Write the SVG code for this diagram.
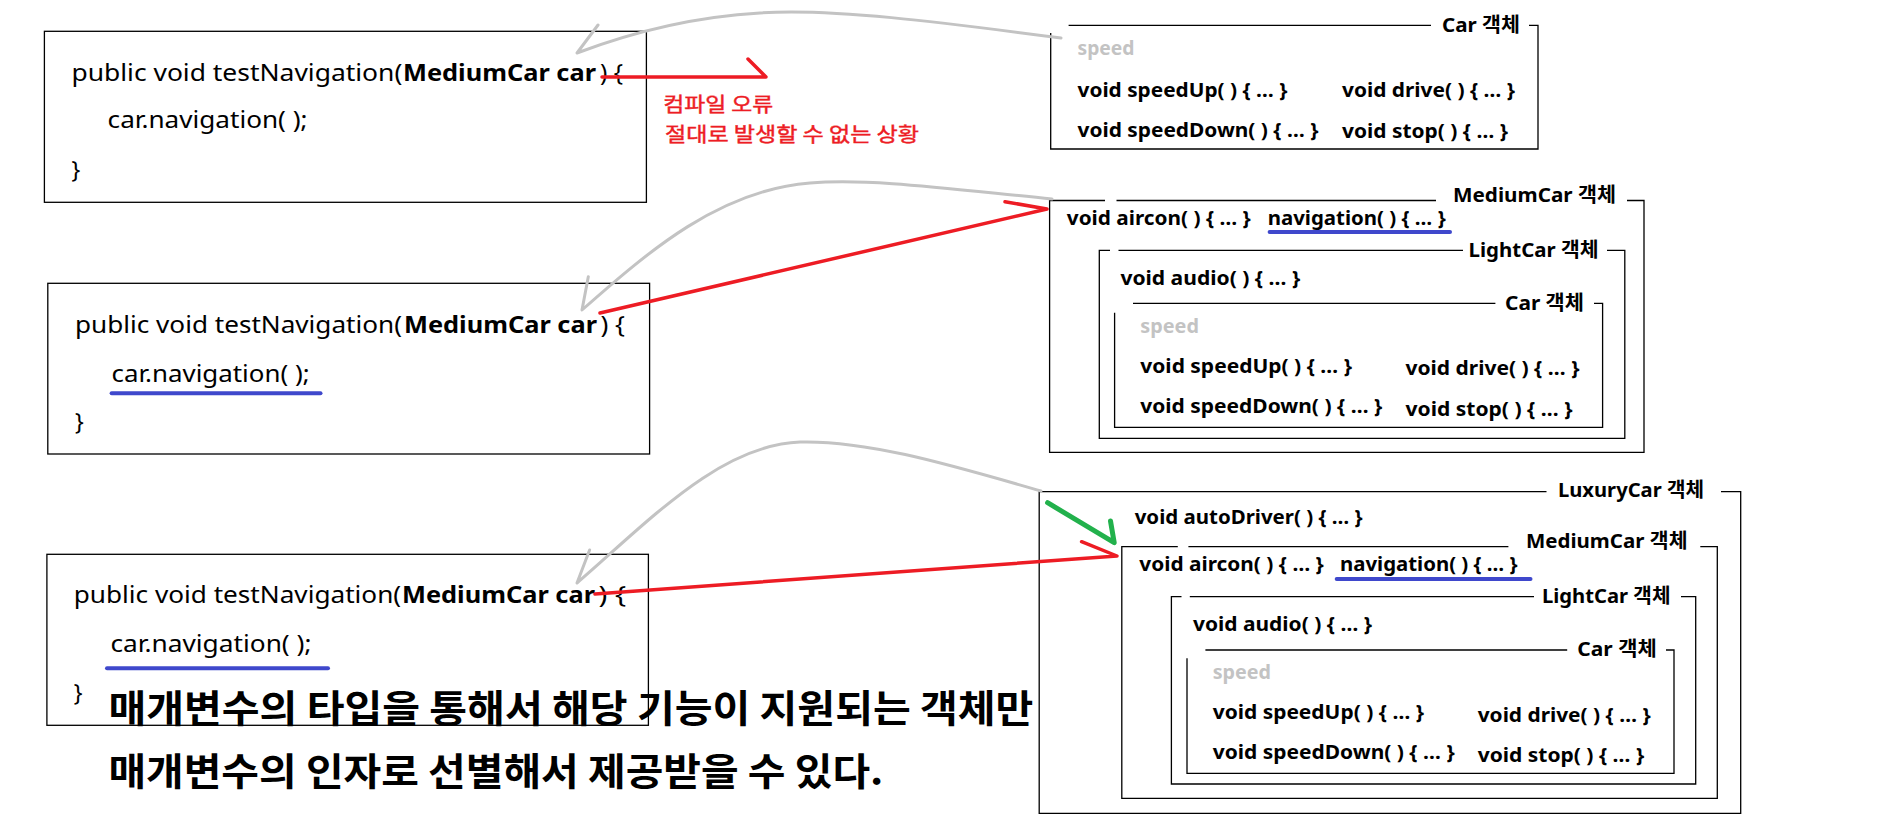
<svg xmlns="http://www.w3.org/2000/svg" width="1887" height="825" viewBox="0 0 1887 825">
<style>
.bx{fill:none;stroke:#000;stroke-width:1.3}
.code{font-family:"Noto Sans","Noto Sans CJK KR",sans-serif;font-size:23px;fill:#000}
.b{font-weight:bold}
.m{font-family:"Noto Sans","Noto Sans CJK KR",sans-serif;font-size:19px;font-weight:bold;fill:#000}
.lbl{font-family:"Noto Sans","Noto Sans CJK KR",sans-serif;font-size:20px;font-weight:bold;fill:#000}
.spd{fill:#c3c3c3}
.note{font-family:"Noto Sans CJK KR",sans-serif;font-size:20px;fill:#ed1c24;stroke:#ed1c24;stroke-width:0.45}
.big{font-family:"Noto Sans CJK KR",sans-serif;font-size:38px;font-weight:bold;fill:#000}
.ul{stroke:#3f48cc;stroke-width:4;stroke-linecap:round;fill:none}
.gray{fill:none;stroke:#c3c3c3;stroke-width:3;stroke-linecap:round;stroke-linejoin:round}
.red{fill:none;stroke:#ed1c24;stroke-width:3.5;stroke-linecap:round;stroke-linejoin:round}
.green{fill:none;stroke:#22b14c;stroke-width:5;stroke-linecap:round;stroke-linejoin:round}
</style>

<g id="code1">
<rect class="bx" x="44.4" y="31.3" width="602" height="171"/>
<text class="code" x="71.4" y="81" textLength="331" lengthAdjust="spacingAndGlyphs">public void testNavigation(</text>
<text class="code b" x="403" y="81" textLength="193" lengthAdjust="spacingAndGlyphs">MediumCar car</text>
<text class="code" x="600" y="81" textLength="23" lengthAdjust="spacingAndGlyphs">) {</text>
<text class="code" x="107.6" y="128.3" textLength="200" lengthAdjust="spacingAndGlyphs">car.navigation( );</text>
<text class="code" x="71.4" y="178">}</text>
</g>

<g id="code2">
<rect class="bx" x="47.8" y="283.3" width="601.8" height="170.7"/>
<text class="code" x="75" y="332.7" textLength="327" lengthAdjust="spacingAndGlyphs">public void testNavigation(</text>
<text class="code b" x="404" y="332.7" textLength="193" lengthAdjust="spacingAndGlyphs">MediumCar car</text>
<text class="code" x="600.5" y="332.7" textLength="24.5" lengthAdjust="spacingAndGlyphs">) {</text>
<text class="code" x="111.6" y="381.7" textLength="198" lengthAdjust="spacingAndGlyphs">car.navigation( );</text>
<line class="ul" x1="111.6" y1="393.3" x2="320.5" y2="393.3"/>
<text class="code" x="75" y="429.5">}</text>
</g>

<g id="code3">
<rect class="bx" x="46.9" y="554.3" width="601.5" height="171"/>
<text class="code" x="73.7" y="603.3" textLength="327.5" lengthAdjust="spacingAndGlyphs">public void testNavigation(</text>
<text class="code b" x="402" y="603.3" textLength="193" lengthAdjust="spacingAndGlyphs">MediumCar car</text>
<text class="code" x="598.5" y="603.3" textLength="27.5" lengthAdjust="spacingAndGlyphs">) {</text>
<text class="code" x="110.5" y="652.3" textLength="201" lengthAdjust="spacingAndGlyphs">car.navigation( );</text>
<line class="ul" x1="107" y1="668.3" x2="328" y2="668.3"/>
<text class="code" x="73.7" y="700.5">}</text>
</g>

<g id="error-note">
<text class="note" x="663.3" y="112" textLength="110" lengthAdjust="spacingAndGlyphs">컴파일 오류</text>
<text class="note" x="665" y="141.5" textLength="254" lengthAdjust="spacingAndGlyphs">절대로 발생할 수 없는 상황</text>
</g>

<g id="summary">
<text class="big" x="108.4" y="722" textLength="925" lengthAdjust="spacingAndGlyphs">매개변수의 타입을 통해서 해당 기능이 지원되는 객체만</text>
<text class="big" x="108.4" y="785" textLength="775" lengthAdjust="spacingAndGlyphs">매개변수의 인자로 선별해서 제공받을 수 있다.</text>
</g>

<g id="car-object">
<path class="bx" d="M1068.6,25.3 H1431 M1529,25.3 H1538 V149 H1050.7 V33"/>
<text class="lbl" x="1442" y="32" textLength="78" lengthAdjust="spacingAndGlyphs">Car 객체</text>
<text class="m spd" x="1077.5" y="55" textLength="57" lengthAdjust="spacingAndGlyphs">speed</text>
<text class="m" x="1077.5" y="97" textLength="210" lengthAdjust="spacingAndGlyphs">void speedUp( ) { … }</text>
<text class="m" x="1342" y="97" textLength="173" lengthAdjust="spacingAndGlyphs">void drive( ) { … }</text>
<text class="m" x="1077.5" y="137" textLength="241" lengthAdjust="spacingAndGlyphs">void speedDown( ) { … }</text>
<text class="m" x="1342" y="138" textLength="166" lengthAdjust="spacingAndGlyphs">void stop( ) { … }</text>
</g>

<g id="mediumcar-object">
<path class="bx" d="M1105,200.5 H1049.6 V452.3 H1644 V200.5 H1627 M1436,200.5 H1116.5"/>
<text class="lbl" x="1453" y="201.7" textLength="163" lengthAdjust="spacingAndGlyphs">MediumCar 객체</text>
<text class="m" x="1066.8" y="225" textLength="184" lengthAdjust="spacingAndGlyphs">void aircon( ) { … }</text>
<text class="m" x="1267.7" y="225" textLength="178" lengthAdjust="spacingAndGlyphs">navigation( ) { … }</text>
<line class="ul" x1="1269.6" y1="232" x2="1450" y2="232"/>
<g id="mediumcar-lightcar">
<path class="bx" d="M1110,250.3 H1099.3 V438.3 H1624.8 V250.3 H1607 M1463,250.3 H1118.5"/>
<text class="lbl" x="1468.6" y="257.3" textLength="130" lengthAdjust="spacingAndGlyphs">LightCar 객체</text>
<text class="m" x="1120.4" y="285" textLength="180" lengthAdjust="spacingAndGlyphs">void audio( ) { … }</text>
<g id="mediumcar-lightcar-car">
<path class="bx" d="M1133,303.3 H1495.4 M1594,303.3 H1602.6 V427.3 H1114.6 V312.7"/>
<text class="lbl" x="1505" y="310" textLength="79" lengthAdjust="spacingAndGlyphs">Car 객체</text>
<text class="m spd" x="1140.3" y="333.3" textLength="58.6" lengthAdjust="spacingAndGlyphs">speed</text>
<text class="m" x="1140.3" y="373.3" textLength="211.7" lengthAdjust="spacingAndGlyphs">void speedUp( ) { … }</text>
<text class="m" x="1405.5" y="375" textLength="174" lengthAdjust="spacingAndGlyphs">void drive( ) { … }</text>
<text class="m" x="1140.3" y="413.3" textLength="242" lengthAdjust="spacingAndGlyphs">void speedDown( ) { … }</text>
<text class="m" x="1405.5" y="416" textLength="167" lengthAdjust="spacingAndGlyphs">void stop( ) { … }</text>
</g>
</g>
</g>

<g id="luxurycar-object">
<path class="bx" d="M1546.5,491.7 H1039.2 V813.3 H1740.7 V491.7 H1721"/>
<text class="lbl" x="1558" y="496.7" textLength="146" lengthAdjust="spacingAndGlyphs">LuxuryCar 객체</text>
<text class="m" x="1134.7" y="524" textLength="228" lengthAdjust="spacingAndGlyphs">void autoDriver( ) { … }</text>
<g id="luxurycar-mediumcar">
<path class="bx" d="M1177.8,546.7 H1121.8 V798.3 H1717.3 V546.7 H1700.3 M1508.4,546.7 H1188.4"/>
<text class="lbl" x="1525.9" y="548.3" textLength="161.6" lengthAdjust="spacingAndGlyphs">MediumCar 객체</text>
<text class="m" x="1139.3" y="571" textLength="184.5" lengthAdjust="spacingAndGlyphs">void aircon( ) { … }</text>
<text class="m" x="1340" y="571" textLength="177.6" lengthAdjust="spacingAndGlyphs">navigation( ) { … }</text>
<line class="ul" x1="1336.7" y1="579" x2="1530.5" y2="579"/>
<g id="luxurycar-lightcar">
<path class="bx" d="M1181.5,596.7 H1171.4 V784 H1695.7 V596.7 H1681 M1534,596.7 H1189.8"/>
<text class="lbl" x="1542" y="603.3" textLength="128.5" lengthAdjust="spacingAndGlyphs">LightCar 객체</text>
<text class="m" x="1193" y="630.7" textLength="179" lengthAdjust="spacingAndGlyphs">void audio( ) { … }</text>
<g id="luxurycar-car">
<path class="bx" d="M1205.4,650 H1567.2 M1666,650 H1674 V773.3 H1187 V658.3"/>
<text class="lbl" x="1577.3" y="656" textLength="79.4" lengthAdjust="spacingAndGlyphs">Car 객체</text>
<text class="m spd" x="1212.7" y="679.3" textLength="58.3" lengthAdjust="spacingAndGlyphs">speed</text>
<text class="m" x="1212.7" y="719.3" textLength="211.3" lengthAdjust="spacingAndGlyphs">void speedUp( ) { … }</text>
<text class="m" x="1477.7" y="721.7" textLength="173" lengthAdjust="spacingAndGlyphs">void drive( ) { … }</text>
<text class="m" x="1212.7" y="759.3" textLength="242" lengthAdjust="spacingAndGlyphs">void speedDown( ) { … }</text>
<text class="m" x="1477.7" y="761.7" textLength="166.6" lengthAdjust="spacingAndGlyphs">void stop( ) { … }</text>
</g>
</g>
</g>
</g>

<g id="connectors">
<path class="gray" d="M1061,38 C940,22 830,8 760,13 C690,17 630,33 577,53 L598,25"/>
<path class="gray" d="M1052,199 C950,189 870,178 810,183 C720,190 650,250 582,310 L588.3,276.7"/>
<path class="gray" d="M1041,491 C960,468 870,440 800,442 C720,445 650,520 577,583 L589.6,550"/>
<path class="red" d="M602,77 H766 L748,59"/>
<path class="red" d="M600,313 L1047,209 L1005,201.7"/>
<path class="red" d="M595,594 L1117,556 L1081.6,541.7"/>
<path class="green" d="M1047.6,502.7 L1114.2,542.7 L1110.5,521"/>
</g>
</svg>
